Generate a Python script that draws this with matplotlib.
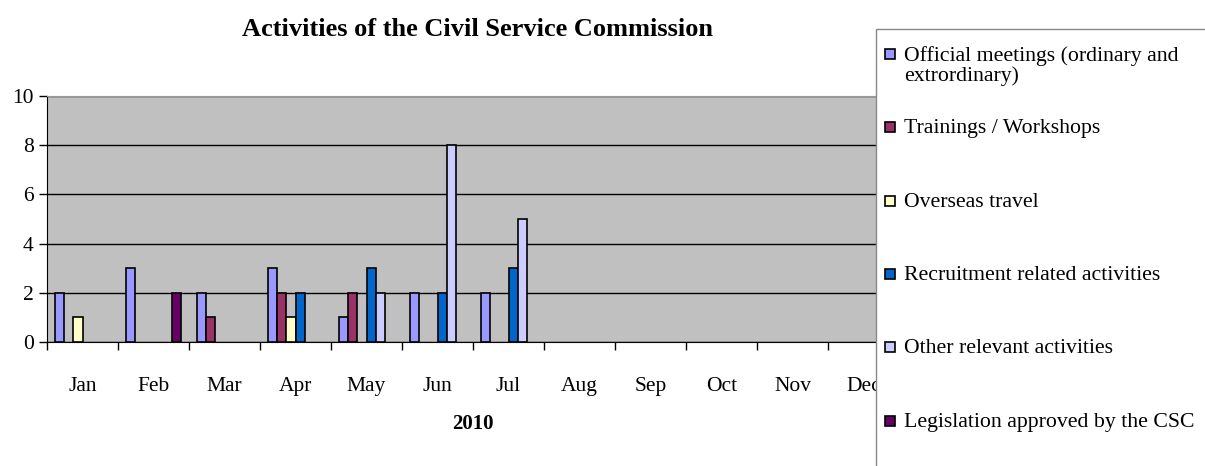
import numpy as np
import matplotlib.pyplot as plt
from matplotlib.patches import Rectangle

plt.rcParams['font.family'] = ['Liberation Serif', 'DejaVu Serif']

# Months of 2010
months = ['Jan', 'Feb', 'Mar', 'Apr', 'May', 'Jun', 'Jul', 'Aug', 'Sep', 'Oct', 'Nov', 'Dec']

# Activity series (counts per month)
series_names = ['Official meetings (ordinary and\nextrordinary)',
                'Trainings / Workshops',
                'Overseas travel',
                'Recruitment related activities',
                'Other relevant activities',
                'Legislation approved by the CSC']
official = [2, 3, 2, 3, 1, 2, 2, 0, 0, 0, 0, 0]
trainings = [0, 0, 1, 2, 2, 0, 0, 0, 0, 0, 0, 0]
overseas = [1, 0, 0, 1, 0, 0, 0, 0, 0, 0, 0, 0]
recruitment = [0, 0, 0, 2, 3, 2, 3, 0, 0, 0, 0, 0]
other = [0, 0, 0, 0, 2, 8, 5, 0, 0, 0, 0, 0]
legislation = [0, 2, 0, 0, 0, 0, 0, 0, 0, 0, 0, 0]
colors = ['#9999FF', '#993366', '#FFFFCC', '#0066CC', '#CCCCFF', '#660066']

all_series = [official, trainings, overseas, recruitment, other, legislation]

W, H = 1205, 466
fig = plt.figure(figsize=(W / 100, H / 100), dpi=100)
ax = fig.add_axes([47 / W, 124 / H, 852 / W, 246 / H])
ax.set_facecolor('#C0C0C0')

x = np.arange(len(months))
w = 0.131
for k, (vals, col) in enumerate(zip(all_series, colors)):
    v = np.array(vals, dtype=float)
    v[v == 0] = np.nan  # Excel draws nothing for empty months
    ax.bar(x + (k - 2.5) * w, v, width=w, color=col, edgecolor='black', linewidth=1.2, zorder=3)

ax.set_xlim(-0.5, 11.5)
ax.set_ylim(0, 10)
ax.set_yticks([0, 2, 4, 6, 8, 10])
ax.yaxis.grid(True, color='black', linewidth=1, zorder=1)
ax.set_axisbelow(True)

# month labels centred, ticks at the group boundaries
ax.set_xticks(x)
ax.set_xticklabels(months)
ax.set_xticks(np.arange(-0.5, 12, 1), minor=True)
ax.tick_params(axis='x', which='major', length=0, pad=25, labelsize=15.5)
ax.tick_params(axis='x', which='minor', length=6, direction='out', width=1)
ax.tick_params(axis='y', length=6, direction='out', labelsize=15.5, width=1)

for s in ['top', 'right']:
    ax.spines[s].set_color('#999999')
ax.spines['left'].set_color('black')
ax.spines['bottom'].set_color('black')

ax.set_xlabel('2010', fontsize=15, fontweight='bold', labelpad=13)
fig.text(477 / W, 1 - 30 / H, 'Activities of the Civil Service Commission',
         ha='center', va='center', fontsize=19, fontweight='bold')

# legend box running off the right and bottom edges
fig.patches.append(Rectangle((876 / W, -0.1), 0.5, 1.1 - 29 / H, transform=fig.transFigure,
                             facecolor='white', edgecolor='#888888', linewidth=1, zorder=5))
row0, step = 54, 73.3
for i, (name, col) in enumerate(zip(series_names, colors)):
    yc = row0 + i * step
    fig.patches.append(Rectangle((885 / W, 1 - (yc + 5) / H), 10 / W, 10 / H,
                                 transform=fig.transFigure, facecolor=col,
                                 edgecolor='black', linewidth=1.2, zorder=6))
    fig.text(904 / W, 1 - (yc - 8) / H, name, ha='left', va='top',
             fontsize=15.7, linespacing=1.0, zorder=7)

fig.savefig('out.png', dpi=100)
